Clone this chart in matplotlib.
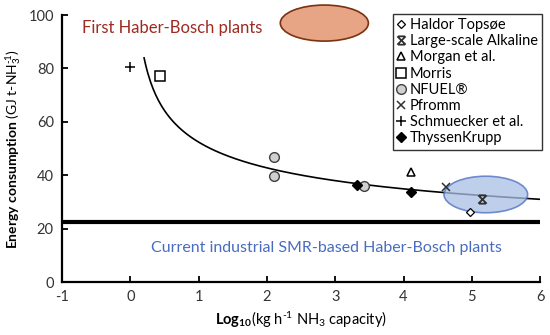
"""Energy consumption of ammonia plants vs log10 capacity (recreated chart)."""
import numpy as np
import matplotlib
matplotlib.use("Agg")
import matplotlib.pyplot as plt
from matplotlib.patches import Ellipse
from matplotlib.path import Path

plt.rcParams["font.family"] = ["Lato", "DejaVu Sans"]
plt.rcParams["mathtext.fontset"] = "custom"
plt.rcParams["mathtext.rm"] = "Lato"
plt.rcParams["mathtext.it"] = "Lato:italic"
plt.rcParams["mathtext.bf"] = "Lato:bold"
plt.rcParams["axes.unicode_minus"] = False

# data points (log10 capacity, GJ/t-NH3)
HALDOR_X, HALDOR_Y = [4.98], [26.3]
ALKALINE_X, ALKALINE_Y = [5.15], [31.0]
MORGAN_X, MORGAN_Y = [4.11], [41.3]
MORRIS_X, MORRIS_Y = [0.43], [77.0]
NFUEL_X, NFUEL_Y = [2.1, 2.1, 3.42], [46.8, 39.7, 36.0]
PFROMM_X, PFROMM_Y = [4.62], [35.7]
SCHMUECKER_X, SCHMUECKER_Y = [0.0], [80.5]
THYSSEN_X, THYSSEN_Y = [3.32, 4.11], [36.5, 33.8]

# power trendline y = a * x^b, drawn over this x range
TREND_A, TREND_B = 52.4, -0.293
TREND_X0, TREND_X1 = 0.2, 6.0

SMR_LEVEL = 22.5

# custom marker: x with bars on top and bottom
alk_marker = Path(
    [(-1, 1), (1, -1), (-1, -1), (1, 1), (-0.8, 1), (0.8, 1), (-0.8, -1), (0.8, -1)],
    [Path.MOVETO, Path.LINETO, Path.MOVETO, Path.LINETO,
     Path.MOVETO, Path.LINETO, Path.MOVETO, Path.LINETO],
)


def main():
    fig = plt.figure(figsize=(5.5, 3.35), dpi=100)
    ax = fig.add_axes([0.113, 0.158, 0.869, 0.797])

    ax.set_xlim(-1, 6)
    ax.set_ylim(0, 100)

    # ellipses
    ax.add_patch(Ellipse((2.84, 97.0), 1.29, 13.5, facecolor="#E8A585",
                         edgecolor="#7A3210", linewidth=1.2, clip_on=False, zorder=2))
    ax.add_patch(Ellipse((5.205, 32.8), 1.225, 13.7, facecolor="#A9BFE6",
                         edgecolor="#4A6CC0", linewidth=1.2, alpha=0.75, zorder=4))

    xs = np.linspace(TREND_X0, TREND_X1, 300)
    ax.plot(xs, TREND_A * xs ** TREND_B, color="black", linewidth=1.2, zorder=3)

    ax.axhline(SMR_LEVEL, color="black", linewidth=3, zorder=3)

    ms = dict(linestyle="none", zorder=5)
    ax.plot(HALDOR_X, HALDOR_Y, "D", markersize=4.5, markerfacecolor="white",
            markeredgecolor="black", markeredgewidth=0.9, label="Haldor Topsøe", **ms)
    ax.plot(ALKALINE_X, ALKALINE_Y, marker=alk_marker, markersize=6,
            markerfacecolor="none", markeredgecolor="#303030",
            markeredgewidth=1.3, label="Large-scale Alkaline", **ms)
    ax.plot(MORGAN_X, MORGAN_Y, "^", markersize=6, markerfacecolor="white",
            markeredgecolor="black", markeredgewidth=1.1, label="Morgan et al.", **ms)
    ax.plot(MORRIS_X, MORRIS_Y, "s", markersize=7, markerfacecolor="white",
            markeredgecolor="black", markeredgewidth=1.1, label="Morris", **ms)
    ax.plot(NFUEL_X, NFUEL_Y, "o", markersize=7, markerfacecolor="#D0D0D0",
            markeredgecolor="#404040", markeredgewidth=1.0, label="NFUEL®", **ms)
    ax.plot(PFROMM_X, PFROMM_Y, "x", markersize=6, color="#303030",
            markeredgewidth=1.1, label="Pfromm", **ms)
    ax.plot(SCHMUECKER_X, SCHMUECKER_Y, "+", markersize=7, color="black",
            markeredgewidth=1.1, label="Schmuecker et al.", **ms)
    ax.plot(THYSSEN_X, THYSSEN_Y, "D", markersize=5, color="black",
            label="ThyssenKrupp", **ms)

    ax.text(0.61, 95.0, "First Haber-Bosch plants", color="#9E2A22",
            fontsize=12, ha="center", va="center")
    ax.text(2.87, 12.7, "Current industrial SMR-based Haber-Bosch plants",
            color="#4A6CC0", fontsize=11.5, ha="center", va="center")

    ax.set_xticks(range(-1, 7))
    ax.set_yticks(range(0, 101, 20))
    for s in ("top", "right"):
        ax.spines[s].set_visible(False)
    for s in ("left", "bottom"):
        ax.spines[s].set_linewidth(1.6)
    ax.tick_params(direction="in", length=4, width=1.3, labelsize=10.5,
                   labelcolor="#333333", pad=6)

    ax.set_xlabel(r"$\mathbf{Log_{10}}$(kg h$^{\text{-}1}$ NH$_3$ capacity)", fontsize=10.5)
    ax.set_ylabel(r"$\mathbf{Energy\ consumption}$ (GJ t-NH$_3^{\text{-}1}$)", fontsize=10)

    leg = ax.legend(loc="upper right", bbox_to_anchor=(1.005, 1.005), fontsize=10.5,
                    frameon=True, fancybox=False, edgecolor="black",
                    handlelength=0.6, handletextpad=0.3, borderpad=0.3,
                    labelspacing=0.15, borderaxespad=0.0)
    leg.get_frame().set_linewidth(1.0)

    fig.savefig("out.png", dpi=100)


if __name__ == "__main__":
    main()
